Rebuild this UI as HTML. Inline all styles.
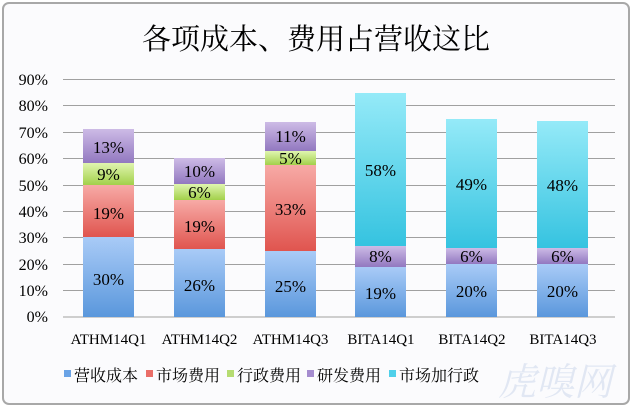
<!DOCTYPE html>
<html><head><meta charset="utf-8"><style>
body{margin:0;background:#fff}
svg text{font-family:"Liberation Serif","Noto Serif CJK SC",serif}
</style></head><body>
<svg width="632" height="408" xmlns="http://www.w3.org/2000/svg">
<defs>
<linearGradient id="b" x1="0" y1="0" x2="0" y2="1"><stop offset="0" stop-color="#a9cbf7"/><stop offset="1" stop-color="#5a97dc"/></linearGradient>
<linearGradient id="r" x1="0" y1="0" x2="0" y2="1"><stop offset="0" stop-color="#f7aaa6"/><stop offset="1" stop-color="#e0554f"/></linearGradient>
<linearGradient id="g" x1="0" y1="0" x2="0" y2="1"><stop offset="0" stop-color="#e0f5b0"/><stop offset="1" stop-color="#a2d04a"/></linearGradient>
<linearGradient id="p" x1="0" y1="0" x2="0" y2="1"><stop offset="0" stop-color="#cdbbe6"/><stop offset="1" stop-color="#9278c0"/></linearGradient>
<linearGradient id="c" x1="0" y1="0" x2="0" y2="1"><stop offset="0" stop-color="#95eaf8"/><stop offset="1" stop-color="#35c3e0"/></linearGradient>
</defs>
<rect x="3" y="3" width="626" height="401" rx="6" fill="#fbfbfd" stroke="#a8a8a8" stroke-width="2"/>
<text x="316" y="49" font-size="29" text-anchor="middle" fill="#000">各项成本、费用占营收这比</text>
<g stroke="#a0a0a0" stroke-width="1">
<line x1="63" x2="615" y1="79.5" y2="79.5"/><line x1="63" x2="615" y1="105.5" y2="105.5"/><line x1="63" x2="615" y1="132.5" y2="132.5"/><line x1="63" x2="615" y1="158.5" y2="158.5"/><line x1="63" x2="615" y1="185.5" y2="185.5"/><line x1="63" x2="615" y1="211.5" y2="211.5"/><line x1="63" x2="615" y1="237.5" y2="237.5"/><line x1="63" x2="615" y1="264.5" y2="264.5"/><line x1="63" x2="615" y1="290.5" y2="290.5"/><line x1="63" x2="615" y1="317" y2="317"/>
</g>
<g font-size="16" text-anchor="end" fill="#000">
<text x="48" y="85">90%</text><text x="48" y="111">80%</text><text x="48" y="138">70%</text><text x="48" y="164">60%</text><text x="48" y="191">50%</text><text x="48" y="217">40%</text><text x="48" y="243">30%</text><text x="48" y="270">20%</text><text x="48" y="296">10%</text><text x="48" y="322">0%</text>
</g>
<g>
<rect x="83" y="237" width="51" height="80" fill="url(#b)"/><rect x="83" y="185" width="51" height="52" fill="url(#r)"/><rect x="83" y="163" width="51" height="22" fill="url(#g)"/><rect x="83" y="129" width="51" height="34" fill="url(#p)"/>
<rect x="174" y="249" width="51" height="68" fill="url(#b)"/><rect x="174" y="200" width="51" height="49" fill="url(#r)"/><rect x="174" y="184" width="51" height="16" fill="url(#g)"/><rect x="174" y="158" width="51" height="26" fill="url(#p)"/>
<rect x="265" y="251" width="51" height="66" fill="url(#b)"/><rect x="265" y="165" width="51" height="86" fill="url(#r)"/><rect x="265" y="151" width="51" height="14" fill="url(#g)"/><rect x="265" y="122" width="51" height="29" fill="url(#p)"/>
<rect x="355" y="267" width="51" height="50" fill="url(#b)"/><rect x="355" y="246" width="51" height="21" fill="url(#p)"/><rect x="355" y="93" width="51" height="153" fill="url(#c)"/>
<rect x="446" y="264" width="51" height="53" fill="url(#b)"/><rect x="446" y="248" width="51" height="16" fill="url(#p)"/><rect x="446" y="119" width="51" height="129" fill="url(#c)"/>
<rect x="537" y="264" width="51" height="53" fill="url(#b)"/><rect x="537" y="248" width="51" height="16" fill="url(#p)"/><rect x="537" y="121" width="51" height="127" fill="url(#c)"/>
</g>
<g font-size="17" text-anchor="middle" fill="#000">
<text x="108.5" y="285">30%</text><text x="108.5" y="219">19%</text><text x="108.5" y="180">9%</text><text x="108.5" y="153">13%</text>
<text x="199.5" y="291">26%</text><text x="199.5" y="232">19%</text><text x="199.5" y="198">6%</text><text x="199.5" y="177">10%</text>
<text x="290.5" y="292">25%</text><text x="290.5" y="215">33%</text><text x="290.5" y="164">5%</text><text x="290.5" y="142">11%</text>
<text x="380.5" y="299">19%</text><text x="380.5" y="262">8%</text><text x="380.5" y="176">58%</text>
<text x="471.5" y="297">20%</text><text x="471.5" y="262">6%</text><text x="471.5" y="190">49%</text>
<text x="562.5" y="297">20%</text><text x="562.5" y="262">6%</text><text x="562.5" y="191">48%</text>
</g>
<g font-size="15" text-anchor="middle" fill="#000">
<text x="108.5" y="344">ATHM14Q1</text><text x="199.5" y="344">ATHM14Q2</text><text x="290.5" y="344">ATHM14Q3</text><text x="381" y="344">BITA14Q1</text><text x="472" y="344">BITA14Q2</text><text x="563" y="344">BITA14Q3</text>
</g>
<g font-size="16" fill="#000">
<rect x="64" y="370" width="7" height="7" fill="#6aa3e6"/><text x="74" y="381">营收成本</text>
<rect x="146" y="370" width="7" height="7" fill="#ea6e68"/><text x="156" y="381">市场费用</text>
<rect x="227" y="370" width="7" height="7" fill="#b6dc72"/><text x="237" y="381">行政费用</text>
<rect x="307" y="370" width="7" height="7" fill="#a58ccf"/><text x="317" y="381">研发费用</text>
<rect x="389" y="370" width="7" height="7" fill="#4fd0ea"/><text x="399" y="381">市场加行政</text>
</g>
<text x="555" y="395" font-size="38" text-anchor="middle" fill="#c8d4ea" opacity="0.5" font-style="italic">虎嗅网</text>
</svg>
</body></html>
